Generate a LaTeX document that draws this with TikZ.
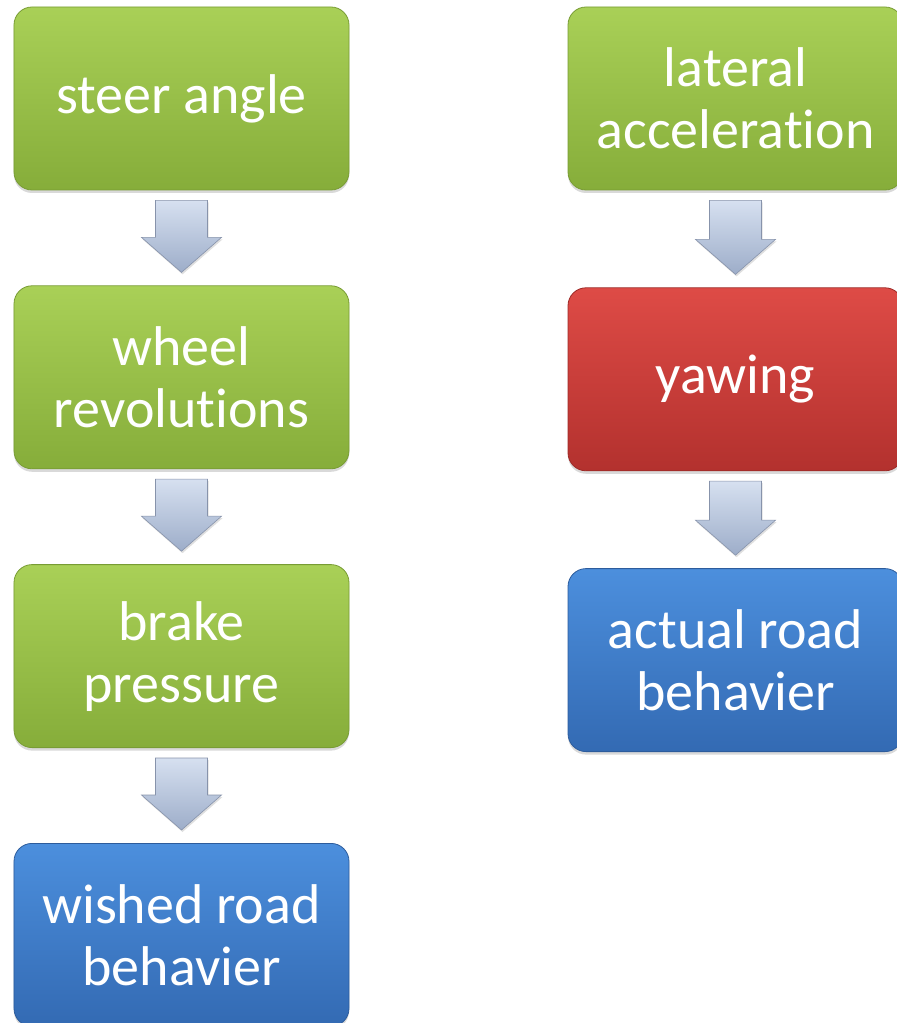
\documentclass[tikz,border=0pt]{standalone}
\usepackage{fontspec}
\setmainfont[Ligatures=NoCommon]{Carlito}
\usepackage{xcolor}
\usepackage{tikz}
\usetikzlibrary{positioning}
\usetikzlibrary{calc,shadows}

\definecolor{grntop}{HTML}{A9D057}
\definecolor{grnbot}{HTML}{86AD3A}
\definecolor{grnedge}{HTML}{789C34}
\definecolor{redtop}{HTML}{DE4B46}
\definecolor{redbot}{HTML}{B3312E}
\definecolor{rededge}{HTML}{9C2A27}
\definecolor{blutop}{HTML}{4C8FDD}
\definecolor{blubot}{HTML}{336AB3}
\definecolor{bluedge}{HTML}{2D5C9C}
\definecolor{arrtop}{HTML}{D6E0F0}
\definecolor{arrbot}{HTML}{9DADC9}
\definecolor{arredge}{HTML}{8793AB}

\newcommand{\boxfont}{\fontsize{56bp}{62bp}\selectfont}

\tikzset{
  box/.style={rounded corners=18bp, minimum width=335bp, minimum height=183bp,
    inner sep=0pt, text=white, font=\boxfont, align=center, line width=0.8bp,
    drop shadow={opacity=0.3, shadow xshift=0bp, shadow yshift=-3bp}},
  greenbox/.style={box, top color=grntop, bottom color=grnbot, draw=grnedge},
  redbox/.style={box, top color=redtop, bottom color=redbot, draw=rededge},
  bluebox/.style={box, top color=blutop, bottom color=blubot, draw=bluedge},
  fatarrow/.style={top color=arrtop, bottom color=arrbot, draw=arredge, line width=0.6bp,
    drop shadow={opacity=0.25, shadow xshift=1bp, shadow yshift=-2bp}}
}

% block arrow from the bottom of #1 to the top of #2
\newcommand{\blockarrow}[2]{%
  \path[fatarrow] ($(#1.south)+(-26,-10)$) -- ($(#1.south)+(26,-10)$)
    -- ($(#2.north)+(26,48)$) -- ($(#2.north)+(40,48)$) -- ($(#2.north)+(0,13)$)
    -- ($(#2.north)+(-40,48)$) -- ($(#2.north)+(-26,48)$) -- cycle;}

\begin{document}
\begin{tikzpicture}[x=1bp,y=1bp]

\useasboundingbox (0,0) rectangle (897,1023);
\clip (0,0) rectangle (897,1023);

% Left column
\node[greenbox] (steer) at (181.5,924.5) {steer angle};
\node[greenbox, below=95bp of steer] (wheel) {wheel\\revolutions};
\node[greenbox, below=95bp of wheel] (brake) {brake\\pressure};
\node[bluebox, below=95bp of brake] (wished) {wished road\\behavier};

% Right column
\node[greenbox] (lateral) at (735.5,924.5) {lateral\\acceleration};
\node[redbox, below=97bp of lateral] (yawing) {yawing};
\node[bluebox, below=97bp of yawing] (actual) {actual road\\behavier};

% Arrows
\blockarrow{steer}{wheel}
\blockarrow{wheel}{brake}
\blockarrow{brake}{wished}
\blockarrow{lateral}{yawing}
\blockarrow{yawing}{actual}

\end{tikzpicture}
\end{document}
